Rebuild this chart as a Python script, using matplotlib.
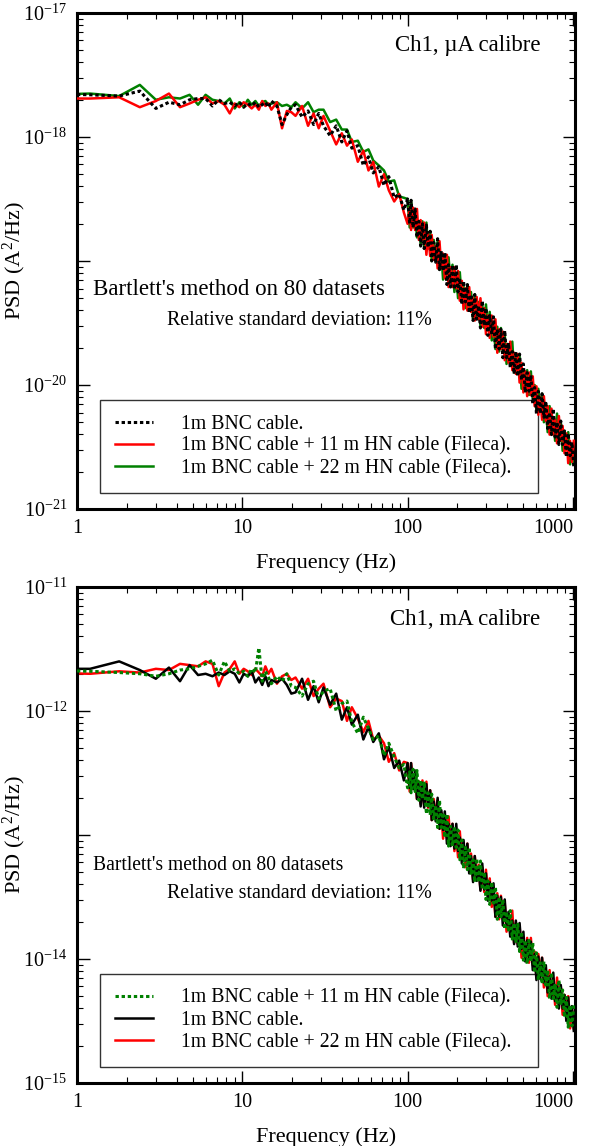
import matplotlib

matplotlib.use("Agg")
import matplotlib.pyplot as plt
import numpy as np
from matplotlib.ticker import LogLocator, NullFormatter

plt.rcParams["font.family"] = ["Liberation Serif", "DejaVu Serif"]
plt.rcParams["mathtext.fontset"] = "custom"
plt.rcParams["mathtext.rm"] = "Liberation Serif"
plt.rcParams["mathtext.it"] = "Liberation Serif:italic"
plt.rcParams["mathtext.bf"] = "Liberation Serif:bold"

# frequency grid (Hz), shared by every curve
freq_low = [0.6, 1.2, 1.8, 2.4, 3.0, 3.6, 4.2, 4.8, 5.4, 6.0, 6.6, 7.2, 7.8, 8.4, 9.0,
            9.6, 10.2, 10.8, 11.4, 12.0, 12.6, 13.2, 13.8, 14.4, 15.0, 16.2, 17.4, 18.6, 19.8]
freq_mid = [21, 23, 25, 27, 29, 31, 34, 37, 40, 43, 46, 50, 54, 58, 62, 67, 72, 77, 83, 89, 95]
freq_high = [100, 103, 105, 108, 111, 114, 117, 120, 123, 126, 130, 133, 137, 140, 144,
             148, 152, 156, 160, 164, 168, 173, 177, 182, 187, 192, 197, 202, 207, 213,
             218, 224, 230, 236, 242, 249, 255, 262, 269, 276, 283, 291, 298, 306, 314,
             323, 331, 340, 349, 358, 367, 377, 387, 397, 408, 418, 430, 441, 452, 464,
             476, 489, 502, 515, 529, 543, 557, 572, 587, 602, 618, 635, 651, 668, 686,
             704, 723, 742, 761, 781, 802, 823, 845, 867, 890, 913, 937, 962, 987, 1013]

# top panel (uA calibre), log10 of PSD in A^2/Hz
ua_bnc = [
    -17.65, -17.66, -17.67, -17.63, -17.77, -17.72, -17.74, -17.70, -17.69, -17.69,
    -17.75, -17.70, -17.73, -17.72, -17.75, -17.72, -17.76, -17.73, -17.75, -17.72,
    -17.76, -17.74, -17.72, -17.76, -17.71, -17.75, -17.90, -17.82, -17.76,
    -17.74, -17.84, -17.79, -17.90, -17.81, -17.91, -17.99, -17.91, -18.04, -17.95,
    -18.09, -18.07, -18.23, -18.16, -18.29, -18.24, -18.39, -18.32, -18.49, -18.46, -18.59,
    -18.50, -18.70, -18.51, -18.73, -18.58, -18.81, -18.68, -18.88, -18.70, -18.90,
    -18.71, -18.89, -18.76, -19.00, -18.85, -19.01, -18.82, -19.07, -18.92, -19.08,
    -18.93, -19.19, -19.03, -19.21, -19.03, -19.23, -19.03, -19.25, -19.14, -19.35,
    -19.16, -19.33, -19.19, -19.42, -19.27, -19.48, -19.27, -19.47, -19.36, -19.54,
    -19.32, -19.52, -19.38, -19.60, -19.44, -19.59, -19.45, -19.71, -19.55, -19.71,
    -19.55, -19.78, -19.56, -19.78, -19.66, -19.86, -19.73, -19.91, -19.73, -19.93,
    -19.75, -19.96, -19.83, -20.06, -19.90, -20.05, -19.92, -20.15, -20.02, -20.23,
    -20.05, -20.23, -20.07, -20.26, -20.13, -20.35, -20.22, -20.40, -20.19, -20.42,
    -20.30, -20.48, -20.29, -20.48, -20.37, -20.58, -20.39, -20.57, -20.46, -20.66,
]
ua_hn11 = [
    -17.69, -17.69, -17.68, -17.76, -17.71, -17.65, -17.76, -17.73, -17.70, -17.68,
    -17.73, -17.71, -17.74, -17.81, -17.73, -17.76, -17.72, -17.74, -17.77, -17.74,
    -17.78, -17.71, -17.75, -17.73, -17.78, -17.72, -17.93, -17.79, -17.80,
    -17.83, -17.75, -17.91, -17.81, -17.93, -17.83, -17.95, -18.06, -17.97, -18.07,
    -18.02, -18.20, -18.11, -18.27, -18.20, -18.40, -18.30, -18.43, -18.52, -18.46, -18.61,
    -18.70, -18.57, -18.75, -18.57, -18.75, -18.58, -18.83, -18.67, -18.83, -18.69,
    -18.95, -18.78, -18.96, -18.79, -18.99, -18.88, -19.06, -18.84, -19.06, -18.94,
    -19.14, -18.95, -19.21, -19.05, -19.21, -19.05, -19.22, -19.08, -19.32, -19.16,
    -19.39, -19.22, -19.40, -19.21, -19.41, -19.30, -19.48, -19.29, -19.47, -19.30,
    -19.53, -19.38, -19.59, -19.44, -19.62, -19.44, -19.61, -19.47, -19.74, -19.55,
    -19.71, -19.57, -19.80, -19.67, -19.82, -19.65, -19.88, -19.74, -19.91, -19.75,
    -19.98, -19.82, -20.06, -19.89, -20.09, -19.90, -20.08, -19.93, -20.17, -20.01,
    -20.24, -20.10, -20.28, -20.09, -20.29, -20.17, -20.40, -20.19, -20.40, -20.28,
    -20.47, -20.25, -20.45, -20.33, -20.55, -20.39, -20.63, -20.45, -20.62, -20.45,
]
ua_hn22 = [
    -17.66, -17.65, -17.67, -17.58, -17.70, -17.68, -17.69, -17.66, -17.74, -17.66,
    -17.70, -17.71, -17.73, -17.69, -17.77, -17.72, -17.76, -17.70, -17.74, -17.71,
    -17.75, -17.72, -17.71, -17.74, -17.73, -17.72, -17.75, -17.74, -17.76,
    -17.72, -17.77, -17.72, -17.80, -17.78, -17.78, -17.88, -17.86, -17.94, -17.94,
    -18.04, -18.03, -18.12, -18.10, -18.19, -18.23, -18.27, -18.36, -18.35, -18.48, -18.49,
    -18.50, -18.73, -18.51, -18.73, -18.61, -18.81, -18.68, -18.86, -18.68, -18.88,
    -18.69, -18.90, -18.76, -19.00, -18.83, -18.98, -18.84, -19.07, -18.94, -19.15,
    -18.96, -19.14, -18.97, -19.17, -19.03, -19.25, -19.12, -19.30, -19.09, -19.32,
    -19.20, -19.38, -19.19, -19.37, -19.25, -19.46, -19.27, -19.45, -19.33, -19.53,
    -19.35, -19.54, -19.35, -19.56, -19.41, -19.64, -19.51, -19.71, -19.53, -19.73,
    -19.54, -19.72, -19.59, -19.83, -19.68, -19.84, -19.65, -19.90, -19.75, -19.91,
    -19.77, -20.03, -19.88, -20.05, -19.88, -20.08, -19.89, -20.11, -20.00, -20.21,
    -20.03, -20.20, -20.07, -20.30, -20.17, -20.38, -20.17, -20.37, -20.27, -20.45,
    -20.23, -20.44, -20.30, -20.53, -20.37, -20.52, -20.38, -20.64, -20.48, -20.64,
]

# bottom panel (mA calibre)
ma_hn11 = [
    -11.67, -11.68, -11.69, -11.70, -11.72, -11.70, -11.67, -11.66, -11.64, -11.62,
    -11.59, -11.71, -11.60, -11.68, -11.66, -11.70, -11.68, -11.72, -11.66, -11.69,
    -11.49, -11.76, -11.68, -11.73, -11.78, -11.72, -11.76, -11.70, -11.80,
    -11.81, -11.88, -11.78, -11.76, -11.90, -11.84, -11.82, -12.00, -11.94, -11.92,
    -12.09, -12.18, -12.05, -12.14, -12.23, -12.20, -12.36, -12.26, -12.37, -12.46, -12.43,
    -12.62, -12.49, -12.66, -12.47, -12.65, -12.48, -12.72, -12.56, -12.71, -12.57,
    -12.83, -12.66, -12.84, -12.67, -12.87, -12.76, -12.94, -12.72, -12.94, -12.82,
    -13.02, -12.83, -13.09, -12.93, -13.09, -12.93, -13.10, -12.96, -13.20, -13.04,
    -13.27, -13.10, -13.28, -13.10, -13.31, -13.20, -13.38, -13.19, -13.38, -13.21,
    -13.44, -13.30, -13.52, -13.37, -13.56, -13.38, -13.55, -13.42, -13.68, -13.50,
    -13.66, -13.52, -13.76, -13.62, -13.78, -13.61, -13.84, -13.71, -13.87, -13.72,
    -13.94, -13.78, -14.01, -13.85, -14.04, -13.85, -14.02, -13.87, -14.11, -13.95,
    -14.17, -14.03, -14.20, -14.02, -14.21, -14.09, -14.32, -14.11, -14.32, -14.20,
    -14.39, -14.17, -14.37, -14.25, -14.47, -14.31, -14.55, -14.37, -14.54, -14.37,
]
ma_bnc = [
    -11.66, -11.66, -11.60, -11.67, -11.74, -11.65, -11.76, -11.63, -11.71, -11.70,
    -11.72, -11.69, -11.71, -11.68, -11.70, -11.77, -11.70, -11.72, -11.68, -11.77,
    -11.73, -11.79, -11.72, -11.80, -11.75, -11.77, -11.74, -11.79, -11.86,
    -11.85, -11.74, -11.91, -11.80, -11.93, -11.81, -11.95, -11.86, -12.07, -11.97,
    -12.11, -12.03, -12.23, -12.13, -12.25, -12.18, -12.39, -12.29, -12.46, -12.40, -12.56,
    -12.42, -12.62, -12.42, -12.63, -12.48, -12.71, -12.57, -12.77, -12.58, -12.78,
    -12.59, -12.77, -12.64, -12.88, -12.73, -12.89, -12.70, -12.95, -12.80, -12.96,
    -12.81, -13.07, -12.91, -13.09, -12.91, -13.11, -12.91, -13.13, -13.02, -13.23,
    -13.04, -13.21, -13.07, -13.31, -13.17, -13.38, -13.17, -13.37, -13.27, -13.45,
    -13.23, -13.44, -13.31, -13.53, -13.38, -13.53, -13.39, -13.66, -13.49, -13.66,
    -13.50, -13.73, -13.52, -13.73, -13.62, -13.82, -13.69, -13.88, -13.69, -13.90,
    -13.71, -13.92, -13.78, -14.02, -13.85, -14.00, -13.86, -14.09, -13.96, -14.17,
    -13.98, -14.16, -13.99, -14.19, -14.05, -14.27, -14.14, -14.32, -14.11, -14.34,
    -14.22, -14.40, -14.21, -14.40, -14.29, -14.50, -14.31, -14.49, -14.38, -14.58,
]
ma_hn22 = [
    -11.69, -11.70, -11.68, -11.69, -11.66, -11.67, -11.62, -11.63, -11.64, -11.60,
    -11.62, -11.80, -11.69, -11.66, -11.60, -11.70, -11.66, -11.68, -11.71, -11.66,
    -11.69, -11.72, -11.64, -11.70, -11.66, -11.78, -11.72, -11.70, -11.75,
    -11.73, -11.82, -11.74, -11.88, -11.82, -11.78, -11.97, -11.90, -11.92, -12.08,
    -11.97, -12.06, -12.17, -12.08, -12.23, -12.20, -12.26, -12.41, -12.34, -12.48, -12.41,
    -12.42, -12.65, -12.42, -12.63, -12.51, -12.71, -12.57, -12.75, -12.56, -12.76,
    -12.57, -12.78, -12.64, -12.88, -12.71, -12.86, -12.72, -12.95, -12.82, -13.03,
    -12.84, -13.02, -12.85, -13.05, -12.91, -13.13, -13.00, -13.18, -12.97, -13.20,
    -13.08, -13.26, -13.07, -13.26, -13.15, -13.36, -13.17, -13.35, -13.24, -13.44,
    -13.26, -13.46, -13.28, -13.49, -13.35, -13.58, -13.45, -13.66, -13.47, -13.68,
    -13.49, -13.67, -13.55, -13.78, -13.64, -13.80, -13.61, -13.87, -13.71, -13.88,
    -13.73, -13.99, -13.83, -14.01, -13.83, -14.03, -13.83, -14.05, -13.94, -14.15,
    -13.96, -14.13, -13.99, -14.23, -14.09, -14.30, -14.09, -14.29, -14.19, -14.37,
    -14.15, -14.36, -14.22, -14.45, -14.29, -14.44, -14.30, -14.56, -14.40, -14.56,
]

label_bnc = "1m BNC cable."
label_hn11 = "1m BNC cable + 11 m HN cable (Fileca)."
label_hn22 = "1m BNC cable + 22 m HN cable (Fileca)."

# y decades of each panel; the middle one carries no label in the figure
ua_decades = [-21, -20, -19, -18, -17]
ma_decades = [-15, -14, -13, -12, -11]
DOTS = (0, (1.1, 0.9))


def style_axes(ax, decades):
    ax.set_xscale("log")
    ax.set_yscale("log")
    ax.set_xlim(1, 1030)
    ax.set_ylim(10.0 ** decades[0], 10.0 ** decades[-1])
    for side in ax.spines.values():
        side.set_linewidth(2.2)
    ax.tick_params(which="both", direction="in", top=True, right=True, labelsize=14.5, pad=7)
    ax.tick_params(which="major", length=9, width=1.0)
    ax.tick_params(which="minor", length=4.5, width=0.8)
    ax.set_yticks([10.0 ** d for d in decades])
    ax.set_yticklabels(["" if i == 2 else "$10^{%d}$" % d for i, d in enumerate(decades)])
    ax.yaxis.set_minor_locator(LogLocator(base=10, subs=np.arange(2, 10), numticks=20))
    ax.yaxis.set_minor_formatter(NullFormatter())
    ax.set_xticks([1, 10, 100, 1000])
    ax.set_xticklabels(["1", "10", "100", "1000"])
    ax.xaxis.get_majorticklabels()[-1].set_horizontalalignment("right")
    ax.set_xlabel("Frequency (Hz)", fontsize=16, labelpad=11)
    ax.set_ylabel("PSD (A$^2$/Hz)", fontsize=16)
    ax.yaxis.set_label_coords(-0.098, 0.5)


def add_legend(ax, handles, labels):
    leg = ax.legend(handles, labels, loc="upper left", bbox_to_anchor=(0.046, 0.0425, 0.88, 0.1775),
                    mode="expand", fontsize=14.2, fancybox=False, handlelength=1.95, handletextpad=1.4,
                    labelspacing=0.15, borderpad=0.75, borderaxespad=0, framealpha=1.0)
    leg.get_frame().set_edgecolor("#333333")
    leg.get_frame().set_linewidth(1.0)
    leg.set_zorder(1)


def main() -> None:
    freq = np.array(freq_low + freq_mid + freq_high)
    fig = plt.figure(figsize=(5.94, 11.46), dpi=100)

    ax1 = fig.add_axes([0.1296, 0.5558, 0.8384, 0.4329])
    h_bnc, = ax1.plot(freq, 10 ** np.array(ua_bnc), color="black", ls=DOTS, lw=2.2, zorder=4)
    h_11, = ax1.plot(freq, 10 ** np.array(ua_hn11), color="red", lw=1.8, zorder=3)
    h_22, = ax1.plot(freq, 10 ** np.array(ua_hn22), color="green", lw=1.8, zorder=2)
    style_axes(ax1, ua_decades)
    ax1.text(0.93, 0.935, "Ch1, µA calibre", transform=ax1.transAxes, ha="right", va="center", fontsize=16.5)
    ax1.text(0.032, 0.4435, "Bartlett's method on 80 datasets", transform=ax1.transAxes, va="center", fontsize=16.5)
    ax1.text(0.181, 0.381, "Relative standard deviation: 11%", transform=ax1.transAxes, va="center", fontsize=14.4)
    add_legend(ax1, [h_bnc, h_11, h_22], [label_bnc, label_hn11, label_hn22])

    ax2 = fig.add_axes([0.1296, 0.0550, 0.8384, 0.4328])
    g_22, = ax2.plot(freq, 10 ** np.array(ma_hn22), color="red", lw=1.8, zorder=2)
    g_bnc, = ax2.plot(freq, 10 ** np.array(ma_bnc), color="black", lw=1.8, zorder=3)
    g_11, = ax2.plot(freq, 10 ** np.array(ma_hn11), color="green", ls=DOTS, lw=2.2, zorder=4)
    style_axes(ax2, ma_decades)
    ax2.text(0.93, 0.935, "Ch1, mA calibre", transform=ax2.transAxes, ha="right", va="center", fontsize=16.5)
    ax2.text(0.032, 0.4375, "Bartlett's method on 80 datasets", transform=ax2.transAxes, va="center", fontsize=14.1)
    ax2.text(0.181, 0.383, "Relative standard deviation: 11%", transform=ax2.transAxes, va="center", fontsize=14.4)
    add_legend(ax2, [g_11, g_bnc, g_22], [label_hn11, label_bnc, label_hn22])

    fig.savefig("out.png", dpi=100)
    plt.close(fig)


if __name__ == "__main__":
    main()
